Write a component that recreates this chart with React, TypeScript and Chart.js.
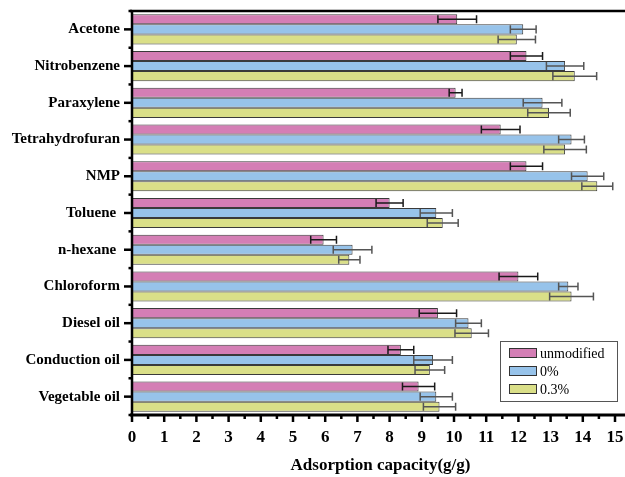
import React, { useEffect, useRef } from 'react';
import { Chart, registerables } from 'chart.js';

Chart.register(...registerables);

const categories = ['Acetone', 'Nitrobenzene', 'Paraxylene', 'Tetrahydrofuran', 'NMP', 'Toluene ', 'n-hexane ', 'Chloroform', 'Diesel oil', 'Conduction oil', 'Vegetable oil'];
const seriesNames = ['unmodified', '0%', '0.3%'];
const unmodified = [10.1, 12.25, 10.05, 11.45, 12.25, 8.0, 5.95, 12.0, 9.5, 8.35, 8.9];
const unmodifiedErr = [0.6, 0.5, 0.2, 0.6, 0.5, 0.42, 0.4, 0.6, 0.58, 0.4, 0.5];
const pct0 = [12.15, 13.45, 12.75, 13.65, 14.15, 9.45, 6.85, 13.55, 10.45, 9.35, 9.45];
const pct0Err = [0.4, 0.58, 0.6, 0.4, 0.5, 0.5, 0.6, 0.3, 0.4, 0.6, 0.5];
const pct03 = [11.95, 13.75, 12.95, 13.45, 14.45, 9.65, 6.75, 13.65, 10.55, 9.25, 9.55];
const pct03Err = [0.58, 0.68, 0.66, 0.66, 0.48, 0.48, 0.33, 0.68, 0.52, 0.46, 0.5];
const seriesColors = ['#D47EB5', '#97C3EA', '#DADF88'];
const errorColors = ['#1a1a1a', '#555555', '#555555'];
const xMin = 0;
const xMax = 15;
const xTitle = 'Adsorption capacity(g/g)';

const errors = [unmodifiedErr, pct0Err, pct03Err];
const SERIF = "'Liberation Serif', 'Times New Roman', serif";

const decorPlugin = {
  id: 'decor',
  afterDatasetsDraw(chart: any) {
    const ctx = chart.ctx;
    const xs = chart.scales.x;
    ctx.save();
    chart.data.datasets.forEach((ds: any, di: number) => {
      const meta = chart.getDatasetMeta(di);
      meta.data.forEach((bar: any, i: number) => {
        const p = bar.getProps(['y', 'height'], true);
        const v = ds.data[i];
        const e = errors[di][i];
        const x1 = xs.getPixelForValue(v - e);
        const x2 = xs.getPixelForValue(v + e);
        const half = p.height * 0.4;
        ctx.strokeStyle = errorColors[di];
        ctx.lineWidth = 1.5;
        ctx.beginPath();
        ctx.moveTo(x1, p.y);
        ctx.lineTo(x2, p.y);
        ctx.moveTo(x1, p.y - half);
        ctx.lineTo(x1, p.y + half);
        ctx.moveTo(x2, p.y - half);
        ctx.lineTo(x2, p.y + half);
        ctx.stroke();
      });
    });
    ctx.restore();
  },
  afterDraw(chart: any) {
    const ctx = chart.ctx;
    const xs = chart.scales.x;
    const ys = chart.scales.y;
    const area = chart.chartArea;
    const W = chart.width;
    ctx.save();
    ctx.strokeStyle = '#000';
    ctx.lineWidth = 2.5;
    ctx.beginPath();
    ctx.moveTo(area.left - 2, area.top);
    ctx.lineTo(W, area.top);
    ctx.stroke();
    ctx.lineWidth = 3;
    ctx.beginPath();
    ctx.moveTo(area.left - 2, area.bottom);
    ctx.lineTo(W, area.bottom);
    ctx.stroke();
    ctx.lineWidth = 2.5;
    ctx.beginPath();
    ctx.moveTo(area.left, area.top);
    ctx.lineTo(area.left, area.bottom);
    ctx.stroke();
    const n = categories.length;
    for (let i = 0; i < n; i++) {
      const y = ys.getPixelForValue(i);
      ctx.beginPath();
      ctx.moveTo(area.left - 8, y);
      ctx.lineTo(area.left, y);
      ctx.stroke();
    }
    for (let i = 0; i <= n; i++) {
      const y = i === 0 ? area.top : i === n ? area.bottom : (ys.getPixelForValue(i - 1) + ys.getPixelForValue(i)) / 2;
      ctx.beginPath();
      ctx.moveTo(area.left - 3.5, y);
      ctx.lineTo(area.left, y);
      ctx.stroke();
    }
    for (let v = xMin; v <= xMax + 0.001; v += 0.5) {
      const x = xs.getPixelForValue(v);
      const major = Math.abs(v - Math.round(v)) < 0.01;
      ctx.lineWidth = 2.5;
      ctx.beginPath();
      ctx.moveTo(x, area.bottom);
      ctx.lineTo(x, area.bottom + (major ? 7 : 4));
      ctx.stroke();
    }
    // axis title
    ctx.fillStyle = '#000';
    ctx.font = `bold 17px ${SERIF}`;
    ctx.textAlign = 'center';
    ctx.textBaseline = 'middle';
    ctx.fillText(xTitle, 380.5, 466);
    // legend
    const lx = 500, ly = 341, lw = 117, lh = 60;
    ctx.fillStyle = '#fff';
    ctx.fillRect(lx, ly, lw, lh);
    ctx.strokeStyle = '#555';
    ctx.lineWidth = 1;
    ctx.strokeRect(lx + 0.5, ly + 0.5, lw, lh);
    ctx.font = `14px ${SERIF}`;
    ctx.textBaseline = 'middle';
    ctx.textAlign = 'left';
    seriesNames.forEach((name, i) => {
      const cy = 353 + i * 18;
      ctx.fillStyle = seriesColors[i];
      ctx.fillRect(509, cy - 4.5, 27, 9);
      ctx.strokeStyle = '#333';
      ctx.strokeRect(509.5, cy - 4.5, 27, 9);
      ctx.fillStyle = '#000';
      ctx.fillText(name, 540, cy + 1);
    });
    ctx.restore();
  },
};

export default function App() {
  const canvasRef = useRef<HTMLCanvasElement | null>(null);

  useEffect(() => {
    if (!canvasRef.current) return;
    const seriesData = [unmodified, pct0, pct03];
    const chart = new Chart(canvasRef.current, {
      type: 'bar',
      data: {
        labels: categories,
        datasets: seriesNames.map((name, i) => ({
          label: name,
          data: seriesData[i],
          backgroundColor: seriesColors[i],
          borderColor: '#3a3a3a',
          borderWidth: 1,
          borderSkipped: false,
          barPercentage: 1,
          categoryPercentage: 0.82,
        })),
      },
      options: {
        indexAxis: 'y',
        animation: false,
        responsive: true,
        maintainAspectRatio: false,
        layout: { padding: { left: 0, right: 10, top: 11, bottom: 0 } },
        plugins: {
          legend: { display: false },
          tooltip: { enabled: false },
        },
        scales: {
          x: {
            type: 'linear',
            min: xMin,
            max: xMax,
            afterFit: (scale: any) => {
              scale.height = 62;
              scale.paddingLeft = 0;
              scale.paddingRight = 0;
            },
            grid: { display: false, drawTicks: false },
            border: { display: false },
            ticks: {
              stepSize: 1,
              padding: 12,
              color: '#000',
              font: { family: SERIF, size: 17, weight: 'bold' },
            },
          },
          y: {
            type: 'category',
            afterFit: (scale: any) => {
              scale.width = 132;
              scale.paddingTop = 0;
              scale.paddingBottom = 0;
            },
            grid: { display: false, drawTicks: false },
            border: { display: false },
            ticks: {
              padding: 12,
              color: '#000',
              font: { family: SERIF, size: 15, weight: 'bold' },
            },
          },
        },
      },
      plugins: [decorPlugin],
    } as any);
    return () => chart.destroy();
  }, []);

  return (
    <div style={{ position: 'absolute', left: 0, top: 0, width: 625, height: 477, background: '#fff' }}>
      <canvas ref={canvasRef} />
    </div>
  );
}
